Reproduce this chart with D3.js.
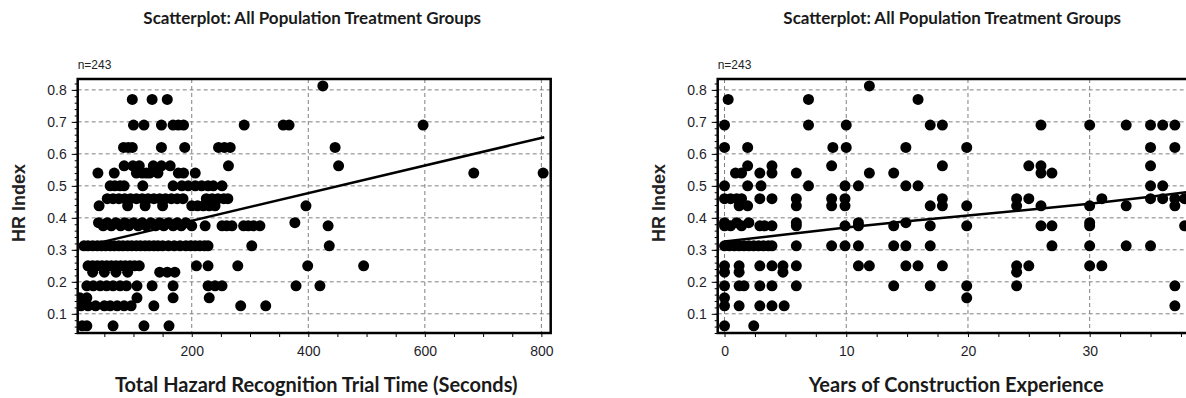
<!DOCTYPE html>
<html>
<head>
<meta charset="utf-8">
<script src="https://cdn.jsdelivr.net/npm/d3@7"></script>
<style>
  body { margin: 0; background: #fff; }
  svg { display: block; }
  .title { font-family: Lato, "Open Sans", sans-serif; font-weight: 700; fill: #1a1a1a; }
  .tick text { font-family: "Liberation Sans", Arial, sans-serif; font-size: 14px; fill: #1e1e2a; }
  .n-label { font-family: "Liberation Sans", Arial, sans-serif; font-size: 12px; fill: #222; }
  .y-title { font-family: "Liberation Sans", Arial, sans-serif; font-weight: 700; font-size: 18px; fill: #222; }
</style>
</head>
<body>
<svg id="chart" width="1186" height="398"></svg>
<script>
const chartTitle = "Scatterplot: All Population Treatment Groups";
const sampleLabel = "n=243";
const yTitle = "HR Index";
const timeTitle = "Total Hazard Recognition Trial Time (Seconds)";
const expTitle = "Years of Construction Experience";

const hrTicks = [0.1, 0.2, 0.3, 0.4, 0.5, 0.6, 0.7, 0.8];
const timeTicks = [200, 400, 600, 800];
const expTicks = [0, 10, 20, 30];

// HR index level -> trial times (seconds)
const timeRows = [
  [0.8125, [425]],
  [0.77, [98, 132, 158]],
  [0.69, [100, 118, 148, 168, 177, 186, 290, 357, 367, 597]],
  [0.62, [83, 91, 98, 148, 188, 246, 256, 266, 446]],
  [0.5625, [84, 99, 110, 134, 148, 163, 263, 452]],
  [0.54, [39, 67, 105, 115, 122, 128, 142, 177, 186, 206, 684, 803]],
  [0.5, [60, 68, 77, 84, 116, 168, 183, 194, 206, 217, 228, 237, 252]],
  [0.46, [55, 65, 75, 85, 95, 105, 115, 125, 135, 145, 155, 165, 175, 185, 225, 235, 245, 255, 262]],
  [0.4375, [41, 90, 120, 150, 200, 210, 220, 230, 240, 396]],
  [0.385, [40, 55, 70, 85, 100, 115, 130, 145, 160, 175, 190, 377]],
  [0.375, [48, 62, 78, 92, 108, 122, 138, 152, 168, 182, 200, 223, 252, 260, 269, 289, 297, 306, 317, 434]],
  [0.3125, [15, 22, 30, 38, 45, 52, 60, 67, 75, 82, 90, 97, 105, 112, 120, 127, 135, 142, 150, 160, 170, 180, 190, 198, 206, 214, 222, 228, 303, 436]],
  [0.25, [22, 30, 38, 46, 54, 62, 70, 78, 86, 94, 102, 110, 208, 228, 279, 399, 495]],
  [0.23, [30, 50, 70, 90, 145, 158, 171]],
  [0.1875, [20, 31, 43, 54, 65, 77, 88, 106, 132, 168, 228, 240, 252, 379, 420]],
  [0.15, [8, 20, 106, 168, 230]],
  [0.125, [10, 22, 35, 50, 60, 72, 84, 96, 135, 284, 327]],
  [0.0625, [12, 20, 65, 118, 161]]
];

// HR index level -> years of experience
const expRows = [
  [0.8125, [11.9]],
  [0.77, [0.3, 6.9, 15.9]],
  [0.69, [0, 6.9, 10, 16.9, 17.9, 26, 30, 33, 35, 36, 37]],
  [0.62, [0, 1.9, 8.9, 10, 14.9, 19.9, 35, 37]],
  [0.5625, [1.9, 3.9, 8.8, 17.9, 25, 26, 35]],
  [0.54, [0.9, 1.4, 2.9, 3.9, 5.9, 11.9, 13.9, 26, 26.9]],
  [0.5, [0, 1.9, 3, 6.9, 9.9, 11, 14.9, 15.9, 35, 36]],
  [0.46, [0, 0.5, 1, 1.4, 2.9, 3.9, 5.9, 8.8, 9.9, 17.9, 24, 25, 31, 35, 36, 37, 37.8]],
  [0.4375, [1.2, 1.9, 5.9, 8.8, 9.9, 16.9, 17.9, 19.9, 24, 26, 30, 33, 37]],
  [0.385, [0, 1, 2, 5.9, 11, 14.9, 30]],
  [0.375, [0, 0.5, 1.4, 2.9, 3.3, 3.9, 5.9, 9.9, 11, 13.9, 16.9, 19.9, 26, 26.9, 30, 37.8]],
  [0.3125, [0, 0.4, 0.8, 1.2, 1.6, 2, 2.4, 2.8, 3.2, 3.6, 3.9, 5.9, 8.8, 9.9, 11, 13.9, 14.9, 16.9, 26.9, 30, 33, 35]],
  [0.25, [0, 1.2, 2.9, 3.9, 4.8, 5.9, 11, 11.9, 14.9, 15.9, 17.9, 24, 25, 30, 31]],
  [0.23, [0, 1.2, 4.8, 24]],
  [0.1875, [0, 1.2, 1.6, 2.9, 3.9, 5.9, 13.9, 16.9, 19.9, 24, 37]],
  [0.15, [0, 19.9]],
  [0.125, [0, 1.2, 2.9, 3.9, 4.9, 37]],
  [0.0625, [0, 2.4]]
];

// fitted trend lines
const timeFitX = [13, 805];
const timeFitY = [0.31, 0.652];
const expFitX = [0, 5, 10, 15, 20, 25, 30, 35, 39];
const expFitY = [0.326, 0.348, 0.37, 0.389, 0.407, 0.425, 0.444, 0.466, 0.485];

const svg = d3.select("#chart");
const plotTop = 79, plotBottom = 333, plotW = 473;
const y = d3.scaleLinear().domain([0.04, 0.834]).range([plotBottom, plotTop]);

function flatten(rows) {
  return rows.flatMap(([hr, xs]) => xs.map(v => ({ x: v, hr })));
}

function drawPanel(p) {
  const x = d3.scaleLinear().domain(p.domain).range([p.left, p.left + plotW]);
  const g = svg.append("g");
  const clipId = "clip-" + p.id;

  g.append("clipPath").attr("id", clipId)
    .append("rect")
    .attr("x", p.left).attr("y", plotTop)
    .attr("width", plotW).attr("height", plotBottom - plotTop);

  const plot = g.append("g").attr("clip-path", `url(#${clipId})`);

  // Grid
  plot.selectAll(".gx").data(p.ticks).enter().append("line")
    .attr("x1", d => x(d)).attr("x2", d => x(d))
    .attr("y1", plotTop).attr("y2", plotBottom)
    .attr("stroke", "#808080").attr("stroke-dasharray", "4,3");
  plot.selectAll(".gy").data(hrTicks).enter().append("line")
    .attr("x1", p.left).attr("x2", p.left + plotW)
    .attr("y1", d => y(d)).attr("y2", d => y(d))
    .attr("stroke", "#808080").attr("stroke-dasharray", "4,3");

  // Points
  plot.selectAll("circle").data(flatten(p.rows)).enter().append("circle")
    .attr("cx", d => x(d.x))
    .attr("cy", d => y(d.hr))
    .attr("r", 5.5)
    .attr("fill", "#000");

  // Trend
  const line = d3.line().x(d => x(d[0])).y(d => y(d[1]));
  plot.append("path")
    .datum(d3.zip(p.fitX, p.fitY))
    .attr("d", line)
    .attr("fill", "none")
    .attr("stroke", "#000")
    .attr("stroke-width", 2.5);

  // Axes
  const minorY = d3.range(0.04, 0.834, 0.02);
  g.append("g").attr("transform", `translate(${p.left},0)`)
    .call(d3.axisLeft(y).tickValues(minorY).tickSize(3).tickFormat(""))
    .call(a => a.select(".domain").remove());
  g.append("g").attr("transform", `translate(${p.left},0)`)
    .call(d3.axisLeft(y).tickValues(hrTicks).tickSize(6).tickPadding(5).tickFormat(d3.format(".1f")))
    .call(a => a.select(".domain").remove());

  const minorX = d3.range(p.minorStart, p.domain[1], p.minorStep);
  g.append("g").attr("transform", `translate(0,${plotBottom})`)
    .call(d3.axisBottom(x).tickValues(minorX).tickSize(4).tickFormat(""))
    .call(a => a.select(".domain").remove());
  g.append("g").attr("transform", `translate(0,${plotBottom})`)
    .call(d3.axisBottom(x).tickValues(p.ticks).tickSize(0).tickPadding(13).tickFormat(d3.format("d")))
    .call(a => a.select(".domain").remove());

  // Frame
  g.append("rect")
    .attr("x", p.left).attr("y", plotTop)
    .attr("width", plotW).attr("height", plotBottom - plotTop)
    .attr("fill", "none").attr("stroke", "#000").attr("stroke-width", 2.5);

  // Texts
  const cx = p.left + plotW / 2;
  g.append("text").attr("class", "title")
    .attr("x", cx - 2).attr("y", 24)
    .attr("text-anchor", "middle").attr("font-size", 17)
    .text(chartTitle);
  g.append("text").attr("class", "n-label")
    .attr("x", p.left).attr("y", 69)
    .text(sampleLabel);
  g.append("text").attr("class", "y-title")
    .attr("transform", `translate(${p.left - 53},${(plotTop + plotBottom) / 2 - 3}) rotate(-90)`)
    .attr("text-anchor", "middle")
    .text(yTitle);
  g.append("text").attr("class", "title")
    .attr("x", cx + 2).attr("y", 392)
    .attr("text-anchor", "middle").attr("font-size", 20)
    .text(p.xTitle);
}

drawPanel({
  id: "time", left: 77.7, domain: [4.3, 816], ticks: timeTicks,
  minorStart: 50, minorStep: 50, rows: timeRows,
  fitX: timeFitX, fitY: timeFitY, xTitle: timeTitle
});
drawPanel({
  id: "exp", left: 717.7, domain: [-0.56, 38.3], ticks: expTicks,
  minorStart: 0, minorStep: 2.5, rows: expRows,
  fitX: expFitX, fitY: expFitY, xTitle: expTitle
});
</script>
</body>
</html>
